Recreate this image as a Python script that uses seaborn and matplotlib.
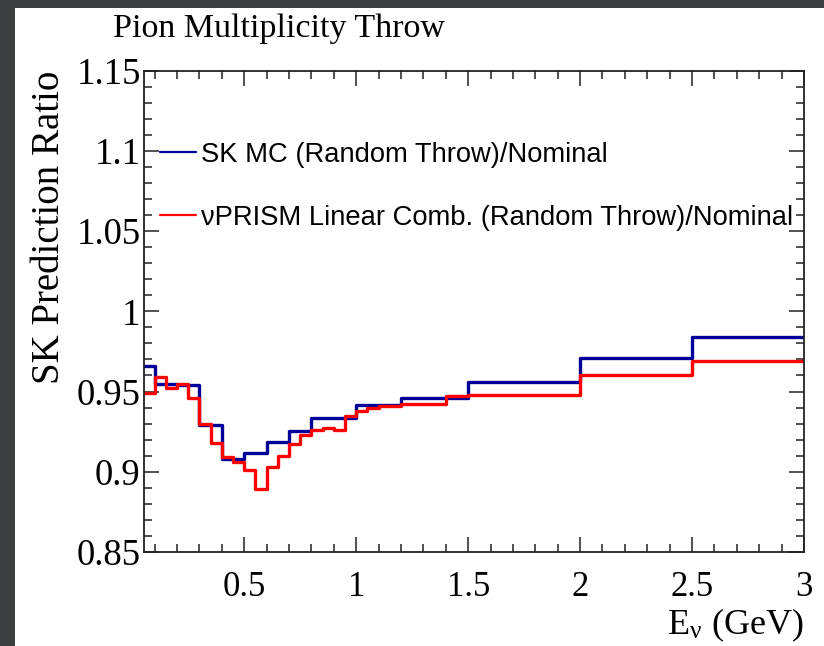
import numpy as np
import pandas as pd
import matplotlib
matplotlib.use("Agg")
import matplotlib.pyplot as plt
from matplotlib.patches import Rectangle
from matplotlib.ticker import MultipleLocator
import seaborn as sns

# ---- data ----
blue_label = "SK MC (Random Throw)/Nominal"
red_label = "\u03bdPRISM Linear Comb. (Random Throw)/Nominal"

blue_edges = [0.05, 0.1, 0.2, 0.3, 0.4, 0.5, 0.6, 0.7, 0.8, 1.0, 1.2, 1.5, 2.0, 2.5, 3.0]
blue_values = [0.966, 0.955, 0.954, 0.929, 0.908, 0.912, 0.9185, 0.9255, 0.9335,
               0.9414, 0.946, 0.956, 0.971, 0.984]

red_edges = [0.05, 0.1, 0.15, 0.2, 0.25, 0.3, 0.35, 0.4, 0.45, 0.5, 0.55, 0.6, 0.65,
             0.7, 0.75, 0.8, 0.85, 0.9, 0.95, 1.0, 1.05, 1.1, 1.2, 1.3, 1.4, 1.5,
             2.0, 2.5, 3.0]
red_values = [0.949, 0.959, 0.952, 0.955, 0.946, 0.930, 0.918, 0.909, 0.906, 0.901,
              0.889, 0.903, 0.910, 0.917, 0.923, 0.926, 0.927, 0.926, 0.935, 0.938,
              0.940, 0.941, 0.942, 0.9425, 0.947, 0.948, 0.960, 0.969]

x_ticks = [0.5, 1, 1.5, 2, 2.5, 3]
y_ticks = [0.85, 0.9, 0.95, 1, 1.05, 1.1, 1.15]
x_ticklabels = ["0.5", "1", "1.5", "2", "2.5", "3"]
y_ticklabels = ["0.85", "0.9", "0.95", "1", "1.05", "1.1", "1.15"]

title = "Pion Multiplicity Throw"
ylabel = "SK Prediction Ratio"
xlabel = r"E$_{\mathregular{\nu}}$ (GeV)"

# ---- build step table ----
def step_frame(edges, values, label):
    y = list(values) + [values[-1]]
    return pd.DataFrame({"E": edges, "ratio": y, "series": label})

df = pd.concat([step_frame(blue_edges, blue_values, blue_label),
                step_frame(red_edges, red_values, red_label)], ignore_index=True)

sns.set_style("ticks")
plt.rcParams["font.family"] = ["Liberation Serif", "DejaVu Serif"]
plt.rcParams["mathtext.fontset"] = "stix"
plt.rcParams["text.color"] = "black"
plt.rcParams["axes.labelcolor"] = "black"

W, H = 824, 646
fig = plt.figure(figsize=(W / 100, H / 100), dpi=100, facecolor="#3c4043")
fig.patches.append(Rectangle((15 / W, 0), 1 - 15 / W, (H - 8) / H,
                             transform=fig.transFigure, facecolor="white",
                             edgecolor="none", zorder=-5))

ax_l, ax_r, ax_t, ax_b = 143.5, 804, 70.6, 552
ax = fig.add_axes([ax_l / W, 1 - ax_b / H, (ax_r - ax_l) / W, (ax_b - ax_t) / H])
ax.set_zorder(2)
ax.set_facecolor("white")

sns.lineplot(data=df, x="E", y="ratio", hue="series",
             hue_order=[blue_label, red_label],
             palette={blue_label: "#000099", red_label: "#ff0000"},
             drawstyle="steps-post", estimator=None, sort=True,
             linewidth=2.4, ax=ax)

ax.set_xlim(0.05, 3.0)
ax.set_ylim(0.85, 1.15)
ax.set_xticks(x_ticks)
ax.set_xticklabels(x_ticklabels)
ax.set_yticks(y_ticks)
ax.set_yticklabels(y_ticklabels)
ax.xaxis.set_minor_locator(MultipleLocator(0.1))
ax.yaxis.set_minor_locator(MultipleLocator(0.01))
ax.tick_params(which="both", direction="in", top=True, right=True,
               colors="#222222", width=1.1, labelcolor="black")
ax.tick_params(which="major", length=11)
ax.tick_params(which="minor", length=6)
ax.tick_params(axis="x", which="major", pad=14, labelsize=25)
ax.tick_params(axis="y", which="major", pad=2, labelsize=26.5)
for s in ax.spines.values():
    s.set_linewidth(1.3)
    s.set_color("#222222")

ax.set_xlabel(xlabel, fontsize=26, loc="right")
ax.xaxis.set_label_coords(1.0, -(607 - ax_b) / (ax_b - ax_t))
ax.set_ylabel(ylabel, fontsize=28, loc="top")
ax.yaxis.set_label_coords(-(ax_l - 68) / (ax_r - ax_l), 1.0)

fig.text(113 / W, 1 - 29 / H, title, fontsize=24.5, ha="left", va="center")

leg = ax.legend(loc="upper left", bbox_to_anchor=(0.025, 0.852), frameon=False,
                prop={"family": ["Liberation Sans", "DejaVu Sans"], "size": 19.7},
                handlelength=1.3, handletextpad=0.2, labelspacing=1.34,
                borderpad=0, borderaxespad=0)
for line in leg.get_lines():
    line.set_linewidth(1.6)

fig.savefig("out.png", dpi=100, facecolor=fig.get_facecolor())
